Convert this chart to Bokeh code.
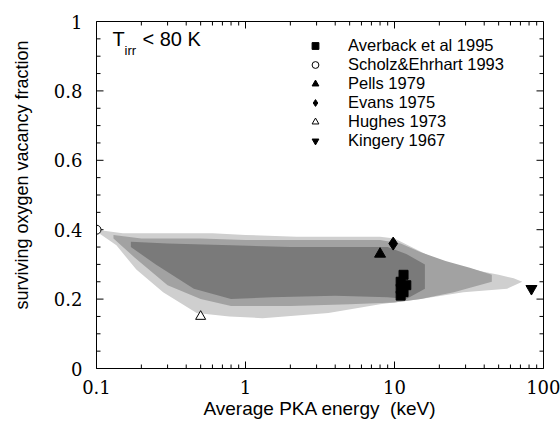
import math
from bokeh.plotting import figure
from bokeh.models import (FixedTicker, Range1d, LogAxis, LinearAxis, Legend, LegendItem, Label)
from bokeh.embed import file_html
from bokeh.resources import INLINE

# ---- data ----
# simulated cloud: outer / middle / core envelopes (energy keV, fraction)
outer_x_up = [0.1, 0.15, 0.2, 0.3, 0.6, 1, 2.2, 5, 8, 10, 13, 17, 25, 38, 50, 63, 72]
outer_y_up = [0.40, 0.39, 0.39, 0.39, 0.39, 0.385, 0.38, 0.38, 0.38, 0.375, 0.35, 0.325, 0.30, 0.28, 0.27, 0.26, 0.25]
outer_x_lo = [0.1, 0.136, 0.185, 0.28, 0.47, 0.78, 1.3, 3.6, 8, 15, 29, 57, 72]
outer_y_lo = [0.395, 0.355, 0.285, 0.22, 0.16, 0.15, 0.145, 0.16, 0.185, 0.2, 0.22, 0.23, 0.25]

mid_x_up = [0.13, 0.2, 0.5, 1, 3, 8, 11, 15, 22, 32, 45]
mid_y_up = [0.385, 0.375, 0.375, 0.37, 0.37, 0.37, 0.36, 0.335, 0.31, 0.29, 0.27]
mid_x_lo = [0.13, 0.18, 0.3, 0.5, 0.8, 2, 5, 10, 15, 25, 45]
mid_y_lo = [0.375, 0.32, 0.24, 0.2, 0.18, 0.18, 0.185, 0.19, 0.2, 0.22, 0.25]

core_x_up = [0.17, 0.3, 0.8, 2, 5, 9, 12, 16]
core_y_up = [0.365, 0.36, 0.355, 0.35, 0.35, 0.35, 0.33, 0.3]
core_x_lo = [0.17, 0.25, 0.45, 0.8, 1.5, 4, 9, 12, 16]
core_y_lo = [0.35, 0.3, 0.23, 0.2, 0.205, 0.21, 0.205, 0.2, 0.23]

# experiments
averback_x = [11, 11, 11, 11.5, 11.5, 12]
averback_y = [0.21, 0.23, 0.25, 0.22, 0.27, 0.24]
scholz_x = [0.1]
scholz_y = [0.40]
pells_x = [8]
pells_y = [0.33]
evans_x = [9.8]
evans_y = [0.36]
hughes_x = [0.5]
hughes_y = [0.15]
kingery_x = [83]
kingery_y = [0.23]

x_lo, x_hi = 0.1, 100
y_lo, y_hi = 0.0, 1.0
x_major = [0.1, 1, 10, 100]
x_minor = [0.2, 0.3, 0.4, 0.5, 0.6, 0.7, 0.8, 0.9,
           2, 3, 4, 5, 6, 7, 8, 9,
           20, 30, 40, 50, 60, 70, 80, 90]
y_major = [0, 0.2, 0.4, 0.6, 0.8, 1.0]
y_minor = [0.05, 0.1, 0.15, 0.25, 0.3, 0.35, 0.45, 0.5, 0.55, 0.65, 0.7, 0.75,
           0.85, 0.9, 0.95]
x_tick_labels = {0.1: "0.1", 1: "1", 10: "10", 100: "100"}
y_tick_labels = {0: "0", 0.2: "0.2", 0.4: "0.4", 0.6: "0.6", 0.8: "0.8", 1: "1"}

W, H = 560, 424
BL, BR, BT, BB = 96, 17, 21, 56
frame_w, frame_h = W - BL - BR, H - BT - BB

p = figure(width=W, height=H, x_axis_type="log",
           x_range=Range1d(x_lo, x_hi), y_range=Range1d(y_lo, y_hi),
           x_axis_location=None, y_axis_location=None,
           output_backend="svg", toolbar_location=None,
           min_border_left=BL, min_border_right=BR, min_border_top=BT, min_border_bottom=BB)
p.xgrid.visible = False
p.ygrid.visible = False
p.outline_line_color = "black"
p.outline_line_width = 1
p.background_fill_color = "white"

def polygon(xu, yu, xl, yl):
    return list(xu) + list(reversed(xl)), list(yu) + list(reversed(yl))

ox, oy = polygon(outer_x_up, outer_y_up, outer_x_lo, outer_y_lo)
mx, my = polygon(mid_x_up, mid_y_up, mid_x_lo, mid_y_lo)
cx, cy = polygon(core_x_up, core_y_up, core_x_lo, core_y_lo)
p.patch(ox, oy, fill_color="#cfcfcf", line_color=None)
p.patch(mx, my, fill_color="#a2a2a2", line_color=None)
p.patch(cx, cy, fill_color="#7a7a7a", line_color=None)

# inward tick marks, lengths converted from pixels to data units
def dy(px):
    return px / frame_h * (y_hi - y_lo)

def fx(px):
    return 10 ** (px / frame_w * math.log10(x_hi / x_lo))

tick_x0, tick_y0, tick_x1, tick_y1 = [], [], [], []
for xs, L in ((x_major, 7), (x_minor, 4)):
    for xv in xs:
        tick_x0 += [xv, xv]
        tick_x1 += [xv, xv]
        tick_y0 += [y_lo, y_hi]
        tick_y1 += [y_lo + dy(L), y_hi - dy(L)]
for ys, L in ((y_major, 7), (y_minor, 4)):
    for yv in ys:
        tick_x0 += [x_lo, x_hi]
        tick_x1 += [x_lo * fx(L), x_hi / fx(L)]
        tick_y0 += [yv, yv]
        tick_y1 += [yv, yv]
p.segment(x0=tick_x0, y0=tick_y0, x1=tick_x1, y1=tick_y1, line_color="black", line_width=1)

r_av = p.scatter(averback_x, averback_y, marker="square", size=9, color="black")
r_sc = p.scatter(scholz_x, scholz_y, marker="circle", size=9, fill_color="white", line_color="black")
r_pe = p.scatter(pells_x, pells_y, marker="triangle", size=11, color="black")
r_ev = p.scatter(evans_x, evans_y, marker="diamond", size=13, color="black")
r_hu = p.scatter(hughes_x, hughes_y, marker="triangle", size=10, fill_color="white", line_color="black")
r_ki = p.scatter(kingery_x, kingery_y, marker="inverted_triangle", size=11, color="black")

legend = Legend(items=[
    LegendItem(label="Averback et al 1995", renderers=[r_av]),
    LegendItem(label="Scholz&Ehrhart 1993", renderers=[r_sc]),
    LegendItem(label="Pells 1979", renderers=[r_pe]),
    LegendItem(label="Evans 1975", renderers=[r_ev]),
    LegendItem(label="Hughes 1973", renderers=[r_hu]),
    LegendItem(label="Kingery 1967", renderers=[r_ki]),
], location=(210, 218), border_line_color=None, background_fill_alpha=0,
    label_text_font="Liberation Sans", label_text_font_size="16.5px", label_text_color="black",
    glyph_width=18, glyph_height=17, label_height=17, spacing=0, padding=0, margin=0,
    label_standoff=24)
p.add_layout(legend)

axis_style = dict(major_tick_in=0, major_tick_out=0, minor_tick_in=0, minor_tick_out=0,
                  axis_line_color="black")

nb = "\u00a0"
bottom = LogAxis(ticker=FixedTicker(ticks=x_major, minor_ticks=x_minor),
                 major_label_overrides=x_tick_labels,
                 major_label_text_font="DejaVu Serif", major_label_text_font_size="18px",
                 major_label_text_color="black", major_label_standoff=11,
                 axis_label="Average PKA energy" + nb + nb + "(keV)",
                 axis_label_text_font="Liberation Sans",
                 axis_label_text_font_size="19px", axis_label_text_font_style="normal",
                 axis_label_text_color="black", axis_label_standoff=1, **axis_style)
left = LinearAxis(ticker=FixedTicker(ticks=y_major, minor_ticks=y_minor),
                  major_label_overrides=y_tick_labels,
                  major_label_text_font="DejaVu Serif", major_label_text_font_size="18px",
                  major_label_text_color="black", major_label_standoff=14,
                  axis_label=nb * 8 + "surviving oxygen vacancy fraction",
                  axis_label_text_font="Liberation Sans",
                  axis_label_text_font_size="18px", axis_label_text_font_style="normal",
                  axis_label_text_color="black", axis_label_standoff=19, **axis_style)
p.add_layout(bottom, "below")
p.add_layout(left, "left")

p.add_layout(Label(x=16, y=319, x_units="screen", y_units="screen", text="T",
                   text_font="Liberation Sans", text_font_size="20px", text_color="black"))
p.add_layout(Label(x=28, y=311, x_units="screen", y_units="screen", text="irr",
                   text_font="Liberation Sans", text_font_size="13px", text_color="black"))
p.add_layout(Label(x=46, y=319, x_units="screen", y_units="screen", text="< 80 K",
                   text_font="Liberation Sans", text_font_size="20px", text_color="black"))

open("out.html", "w").write(file_html(p, INLINE))
